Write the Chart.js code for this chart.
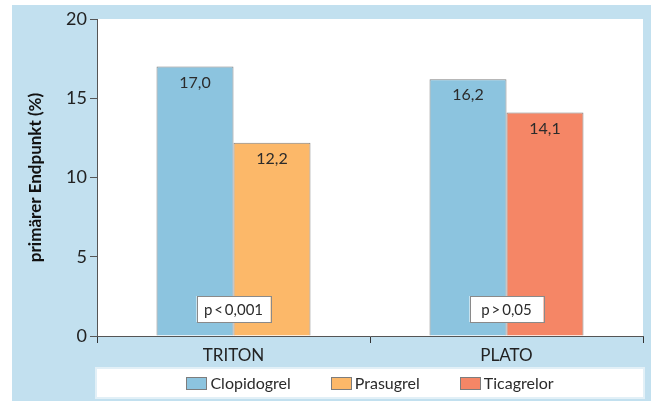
<!DOCTYPE html>
<html lang="de">
<head>
  <meta charset="UTF-8">
  <title>Primärer Endpunkt TRITON / PLATO</title>
  <script src="https://cdn.jsdelivr.net/npm/chart.js"></script>
  <style>
    body { margin: 0; background: #fff; }
    .wrap { position: relative; width: 651px; height: 401px; }
  </style>
</head>
<body>
<div class="wrap">
  <canvas id="endpointChart" width="651" height="401"></canvas>
</div>

<script>
  // chart data
  const studies = ['TRITON', 'PLATO'];
  const clopidogrel = [17.0, 16.2];
  const comparator = [12.2, 14.1];
  const legendNames = ['Clopidogrel', 'Prasugrel', 'Ticagrelor'];
  const pValues = ['p\u2009<\u20090,001', 'p\u2009>\u20090,05'];
  const yTicks = [0, 5, 10, 15, 20];

  const FONT = 'Lato';
  const BLUE = '#8cc4df';
  const ORANGE = '#fcb869';
  const RED = '#f58666';
  const legendColors = [BLUE, ORANGE, RED];

  // light blue frame + white plot area
  const framePlugin = {
    id: 'frame',
    beforeDraw(chart) {
      const { ctx, chartArea: a } = chart;
      ctx.save();
      ctx.fillStyle = '#c2e0ef';
      ctx.fillRect(12, 5, chart.width - 12, chart.height - 5);
      ctx.fillStyle = '#ffffff';
      ctx.fillRect(a.left, a.top, a.right - a.left, a.bottom - a.top);
      ctx.restore();
    }
  };

  // values inside bars + p-value boxes
  const labelsPlugin = {
    id: 'barLabels',
    afterDatasetsDraw(chart) {
      const { ctx, chartArea: a } = chart;
      ctx.save();
      ctx.font = '16px ' + FONT;
      ctx.fillStyle = '#2b2b2b';
      ctx.textAlign = 'center';
      ctx.textBaseline = 'middle';
      chart.data.datasets.forEach((ds, i) => {
        chart.getDatasetMeta(i).data.forEach((bar, j) => {
          const txt = ds.data[j].toFixed(1).replace('.', ',');
          ctx.fillText(txt, bar.x, bar.y + 16);
        });
      });

      const xs = chart.scales.x;
      ctx.font = '15px ' + FONT;
      studies.forEach((s, i) => {
        const cx = xs.getPixelForValue(i);
        const w = 74, h = 26;
        const top = a.bottom - 40;
        ctx.fillStyle = '#ffffff';
        ctx.fillRect(cx - w / 2, top, w, h);
        ctx.strokeStyle = '#8a8a8a';
        ctx.lineWidth = 1;
        ctx.strokeRect(Math.round(cx - w / 2) + 0.5, top + 0.5, w, h);
        ctx.fillStyle = '#2b2b2b';
        ctx.fillText(pValues[i], cx, top + h / 2 + 1);
      });
      ctx.restore();
    },
    afterDraw(chart) {
      // legend box below the axis
      const { ctx, chartArea: a } = chart;
      const top = 368, h = 30;
      ctx.save();
      ctx.fillStyle = '#ffffff';
      ctx.fillRect(a.left - 1, top, a.right - a.left + 2, h);
      ctx.strokeStyle = '#e2f0f7';
      ctx.lineWidth = 2;
      ctx.strokeRect(a.left - 1, top, a.right - a.left + 2, h);

      ctx.font = '16px ' + FONT;
      ctx.textBaseline = 'middle';
      ctx.textAlign = 'left';
      const boxW = 20, boxH = 12, gapText = 4, gapItem = 40;
      const widths = legendNames.map(n => boxW + gapText + ctx.measureText(n).width);
      const total = widths.reduce((s, w) => s + w, 0) + gapItem * (legendNames.length - 1);
      let x = (a.left + a.right) / 2 - total / 2;
      const cy = top + h / 2;
      legendNames.forEach((n, i) => {
        ctx.fillStyle = legendColors[i];
        ctx.fillRect(Math.round(x), Math.round(cy - boxH / 2), boxW, boxH);
        ctx.strokeStyle = '#7d7d7d';
        ctx.lineWidth = 1;
        ctx.strokeRect(Math.round(x) + 0.5, Math.round(cy - boxH / 2) + 0.5, boxW, boxH);
        ctx.fillStyle = '#2b2b2b';
        ctx.fillText(n, x + boxW + gapText, cy + 1);
        x += widths[i] + gapItem;
      });
      ctx.restore();
    }
  };

  const ctx = document.getElementById('endpointChart').getContext('2d');
  new Chart(ctx, {
    type: 'bar',
    data: {
      labels: studies,
      datasets: [
        {
          label: legendNames[0],
          data: clopidogrel,
          backgroundColor: BLUE,
          borderColor: '#808080',
          borderWidth: 1,
          borderSkipped: 'start'
        },
        {
          label: legendNames[1] + ' / ' + legendNames[2],
          data: comparator,
          backgroundColor: [ORANGE, RED],
          borderColor: '#808080',
          borderWidth: 1,
          borderSkipped: 'start'
        }
      ]
    },
    options: {
      responsive: false,
      animation: false,
      layout: { padding: { left: 0, top: 19, right: 8, bottom: 35 } },
      datasets: { bar: { barPercentage: 1, categoryPercentage: 0.564 } },
      plugins: {
        legend: { display: false },
        tooltip: { enabled: false }
      },
      scales: {
        x: {
          grid: { drawOnChartArea: false, drawTicks: true, tickLength: 7, color: '#333', offset: true },
          border: { display: true, color: '#555', width: 1 },
          ticks: { color: '#222', font: { family: FONT, size: 17 }, padding: 2 },
          afterFit(scale) { scale.height = 30; }
        },
        y: {
          min: 0,
          max: 20,
          afterBuildTicks(scale) { scale.ticks = yTicks.map(v => ({ value: v })); },
          grid: { drawOnChartArea: false, drawTicks: true, tickLength: 7, color: '#555' },
          border: { display: true, color: '#555', width: 1 },
          ticks: { color: '#222', font: { family: FONT, size: 18 }, padding: 3 },
          title: {
            display: true,
            text: 'primärer Endpunkt (%)',
            color: '#111',
            font: { family: FONT, size: 17, weight: 'bold' },
            padding: { top: 25, bottom: 0 }
          },
          afterFit(scale) { scale.width = 97; }
        }
      }
    },
    plugins: [framePlugin, labelsPlugin]
  });
</script>
</body>
</html>
